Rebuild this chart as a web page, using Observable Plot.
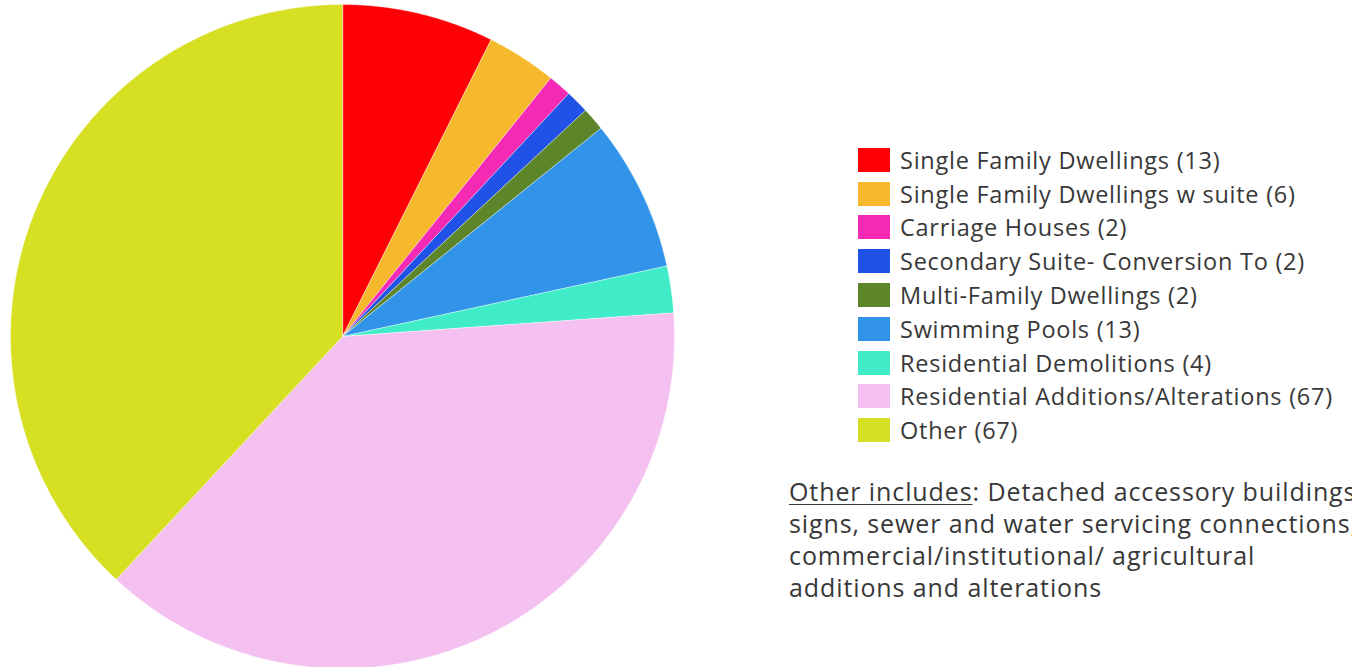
<!DOCTYPE html>
<html>
<head>
<meta charset="utf-8">
<script src="https://cdn.jsdelivr.net/npm/d3@7"></script>
<script src="https://cdn.jsdelivr.net/npm/@observablehq/plot@0.6"></script>
<style>
  html, body { margin: 0; padding: 0; background: #fff; overflow: hidden; }
  #wrap { position: relative; width: 1352px; height: 667px; font-family: "Open Sans", sans-serif; color: #383838; }
  #chart { position: absolute; left: 0; top: 0; }
  #legend { position: absolute; left: 858px; top: 143px; }
  .item { display: flex; align-items: center; height: 33.8px; font-size: 23.5px; letter-spacing: 0.75px; white-space: nowrap; }
  .sw { width: 32px; height: 24px; margin-right: 10px; flex: none; }
  #note { position: absolute; left: 789px; top: 475px; font-size: 25px; letter-spacing: 0.9px; line-height: 32px; white-space: nowrap; }
  #note u { text-decoration: underline; text-decoration-thickness: 1px; text-underline-offset: 3px; }
</style>
</head>
<body>
<div id="wrap">
  <div id="chart"></div>
  <div id="legend"></div>
  <div id="note"><u>Other includes</u>: Detached accessory buildings,<br>signs, sewer and water servicing connections,<br>commercial/institutional/ agricultural<br>additions and alterations</div>
</div>
<script>
const categories = [
  "Single Family Dwellings",
  "Single Family Dwellings w suite",
  "Carriage Houses",
  "Secondary Suite- Conversion To",
  "Multi-Family Dwellings",
  "Swimming Pools",
  "Residential Demolitions",
  "Residential Additions/Alterations",
  "Other"
];
const counts = [13, 6, 2, 2, 2, 13, 4, 67, 67];
const colors = ["#ff0007", "#f6b92c", "#f42ab4", "#2052e8", "#5d862a", "#3294e8", "#40ecc8", "#f4c0f0", "#d6df22"];

const arcs = d3.pie().sort(null).value(d => d)(counts);
const pts = [];
arcs.forEach((a, i) => {
  const cat = categories[i];
  pts.push({cat, x: 0, y: 0});
  const n = Math.max(2, Math.ceil((a.endAngle - a.startAngle) / 0.005));
  for (let k = 0; k <= n; k++) {
    const t = a.startAngle + (a.endAngle - a.startAngle) * k / n;
    pts.push({cat, x: Math.sin(t), y: Math.cos(t)});
  }
});

const chart = Plot.plot({
  width: 690,
  height: 667,
  margin: 0,
  x: {domain: [-1, 1], range: [10, 674], axis: null},
  y: {domain: [-1, 1], range: [668, 4], axis: null},
  color: {domain: categories, range: colors},
  marks: [
    Plot.line(pts, {x: "x", y: "y", z: "cat", fill: "cat", stroke: "#ffffff", strokeWidth: 0.6, strokeOpacity: 0.7, curve: "linear-closed"})
  ]
});
document.getElementById("chart").appendChild(chart);

const legend = document.getElementById("legend");
categories.forEach((c, i) => {
  const row = document.createElement("div");
  row.className = "item";
  const sw = document.createElement("span");
  sw.className = "sw";
  sw.style.background = colors[i];
  const tx = document.createElement("span");
  tx.textContent = `${c} (${counts[i]})`;
  row.appendChild(sw);
  row.appendChild(tx);
  legend.appendChild(row);
});
</script>
</body>
</html>
